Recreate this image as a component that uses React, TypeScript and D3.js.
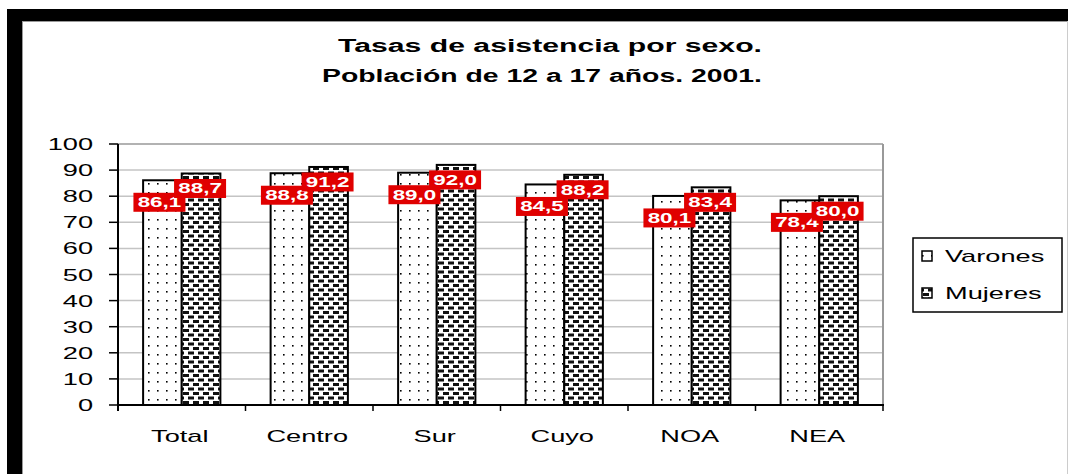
import React from 'react';
import * as d3 from 'd3';

const categories = ['Total', 'Centro', 'Sur', 'Cuyo', 'NOA', 'NEA'];
const seriesNames = ['Varones', 'Mujeres'];
const varones = [86.1, 88.8, 89.0, 84.5, 80.1, 78.4];
const mujeres = [88.7, 91.2, 92.0, 88.2, 83.4, 80.0];
const yTicks = [0, 10, 20, 30, 40, 50, 60, 70, 80, 90, 100];
const titleLines = ['Tasas de asistencia por sexo.', 'Población de 12 a 17 años. 2001.'];

const FONT = "'Liberation Sans', Arial, sans-serif";
const SX = 1.6;

function SText(props: { x: number; y: number; anchor?: string; size?: number; weight?: string; fill?: string; children: any }) {
  const { x, y, anchor = 'start', size = 17, weight = 'normal', fill = '#000', children } = props;
  return (
    <text
      transform={`translate(${x},${y}) scale(${SX},1)`}
      textAnchor={anchor}
      fontFamily={FONT}
      fontSize={size}
      fontWeight={weight}
      fill={fill}
    >
      {children}
    </text>
  );
}

export default function App() {
  const W = 1068;
  const H = 474;
  const left = 118;
  const right = 883;
  const top = 144;
  const bottom = 405;

  const y = d3.scaleLinear().domain([0, 100]).range([bottom, top]);
  const x0 = d3.scaleBand<string>().domain(categories).range([left, right]).padding(0);
  const x1 = d3
    .scaleBand<string>()
    .domain(seriesNames)
    .range([0, x0.bandwidth()])
    .paddingInner(0)
    .paddingOuter(0.65);

  const fmt = (v: number) => d3.format('.1f')(v).replace('.', ',');
  const seriesData = [varones, mujeres];
  const fills = ['url(#patV)', 'url(#patM)'];
  const labelDy = [22, 15];
  const labelDx = [-3, -1];

  return (
    <div style={{ position: 'absolute', left: 0, top: 0 }}>
      <svg width={W} height={H} style={{ display: 'block', background: '#fff' }}>
        <defs>
          <pattern id="patV" patternUnits="userSpaceOnUse" width={9} height={9} x={left} y={0}>
            <rect x={0} y={0} width={9} height={9} fill="#fff" />
            <rect x={3} y={3} width={1.6} height={1.6} fill="#000" />
          </pattern>
          <pattern id="patM" patternUnits="userSpaceOnUse" width={10} height={9} x={left} y={0}>
            <rect x={0} y={0} width={10} height={9} fill="#fff" />
            <rect x={0} y={0.5} width={6} height={3} fill="#111" />
            <rect x={5} y={5} width={6} height={3} fill="#111" />
            <rect x={-5} y={5} width={6} height={3} fill="#111" />
          </pattern>
        </defs>

        {/* frame */}
        <rect x={7} y={9} width={W - 7} height={12} fill="#000" />
        <rect x={7} y={9} width={15} height={H - 9} fill="#000" />
        <line x1={22.5} y1={21} x2={22.5} y2={H} stroke="#999" strokeWidth={1} />
        <line x1={22} y1={21.5} x2={W} y2={21.5} stroke="#999" strokeWidth={1} />
        <line x1={W - 0.5} y1={21} x2={W - 0.5} y2={H} stroke="#ccc" strokeWidth={1} />

        {/* title */}
        <text x={338} y={52} fontFamily={FONT} fontSize={18} fontWeight="bold" textLength={424} lengthAdjust="spacingAndGlyphs">
          {titleLines[0]}
        </text>
        <text x={322} y={82} fontFamily={FONT} fontSize={18} fontWeight="bold" textLength={440} lengthAdjust="spacingAndGlyphs">
          {titleLines[1]}
        </text>

        {/* gridlines */}
        {yTicks.map((t) => (
          <line key={'g' + t} x1={left} x2={right} y1={y(t)} y2={y(t)} stroke={t === 100 ? '#999' : '#c4c4c4'} strokeWidth={1.5} />
        ))}
        <line x1={right} x2={right} y1={top} y2={bottom} stroke="#999" strokeWidth={2} />

        {/* bars */}
        {categories.map((c, i) => (
          <g key={c}>
            {seriesNames.map((s, k) => {
              const v = seriesData[k][i];
              const bx = (x0(c) as number) + (x1(s) as number);
              return (
                <rect
                  key={s}
                  x={bx}
                  y={y(v)}
                  width={x1.bandwidth()}
                  height={bottom - y(v)}
                  fill={fills[k]}
                  stroke="#000"
                  strokeWidth={2}
                />
              );
            })}
          </g>
        ))}

        {/* axes */}
        <line x1={left} x2={left} y1={top} y2={bottom + 6} stroke="#000" strokeWidth={2} />
        <line x1={left - 1} x2={right + 1} y1={bottom} y2={bottom} stroke="#000" strokeWidth={2} />
        {yTicks.map((t) => (
          <g key={'yt' + t}>
            <line x1={left - 9} x2={left} y1={y(t)} y2={y(t)} stroke="#000" strokeWidth={1.5} />
            <SText x={93} y={y(t) + 6} anchor="end">
              {t}
            </SText>
          </g>
        ))}
        {categories.map((c) => (
          <line key={'xt' + c} x1={(x0(c) as number) + x0.bandwidth()} x2={(x0(c) as number) + x0.bandwidth()} y1={bottom} y2={bottom + 6} stroke="#000" strokeWidth={1.5} />
        ))}
        {categories.map((c) => (
          <SText key={'xl' + c} x={(x0(c) as number) + x0.bandwidth() / 2 - 2} y={442} anchor="middle">
            {c}
          </SText>
        ))}

        {/* data labels: Varones first, Mujeres on top */}
        {seriesNames.map((s, k) => (
          <g key={'lab' + s}>
            {categories.map((c, i) => {
              const v = seriesData[k][i];
              const cx = (x0(c) as number) + (x1(s) as number) + x1.bandwidth() / 2 + labelDx[k];
              const cy = y(v) + labelDy[k];
              return (
                <g key={c}>
                  <rect x={cx - 26} y={cy - 9.5} width={52} height={19} fill="#e00000" />
                  <SText x={cx} y={cy + 5} anchor="middle" size={14} weight="bold" fill="#fff">
                    {fmt(v)}
                  </SText>
                </g>
              );
            })}
          </g>
        ))}

        {/* legend */}
        <rect x={913} y={238} width={149} height={74} fill="#fff" stroke="#000" strokeWidth={1.5} />
        {seriesNames.map((s, k) => {
          const ly = 256 + k * 37;
          return (
            <g key={'leg' + s}>
              <rect x={922} y={ly - 5} width={10} height={10} fill={fills[k]} stroke="#000" strokeWidth={1.5} />
              <SText x={945} y={ly + 6}>
                {s}
              </SText>
            </g>
          );
        })}
      </svg>
    </div>
  );
}
